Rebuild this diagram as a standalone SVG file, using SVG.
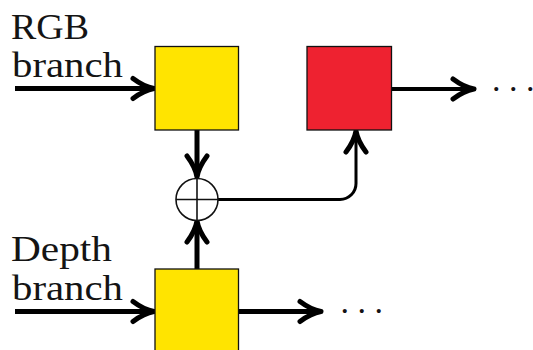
<svg xmlns="http://www.w3.org/2000/svg" width="533" height="350" viewBox="0 0 533 350">
  <style>
    .lbl { font-family: "Liberation Serif", "DejaVu Serif", serif; font-size: 36px; fill: #141414; }
    .dots { font-family: "Liberation Serif", "DejaVu Serif", serif; font-size: 34px; fill: #141414; }
    .box { stroke: #111; stroke-width: 1.3; }
    .yellow { fill: #FFE400; }
    .red { fill: #EE2230; }
    .thick { stroke: #000; stroke-width: 5; fill: none; }
    .mid { stroke: #000; stroke-width: 4; fill: none; }
    .thin { stroke: #000; stroke-width: 3; fill: none; }
    .sum { stroke: #111; stroke-width: 1.6; fill: #fff; }
  </style>
  <defs>
    <marker id="arr" markerUnits="userSpaceOnUse" viewBox="-28 -14 32 28" markerWidth="32" markerHeight="28" refX="-4" refY="0" orient="auto" overflow="visible">
      <path d="M-22,-10 C-14,-4 -7,-1 -1,0 C-7,1 -14,4 -22,10" fill="none" stroke="#000" stroke-width="5" stroke-linecap="round" stroke-linejoin="round"/>
    </marker>
  </defs>

  <g id="label-rgb">
    <text class="lbl" x="11" y="39" textLength="78" lengthAdjust="spacingAndGlyphs">RGB</text>
    <text class="lbl" x="12" y="77" textLength="111" lengthAdjust="spacingAndGlyphs">branch</text>
  </g>
  <g id="label-depth">
    <text class="lbl" x="11" y="261" textLength="101" lengthAdjust="spacingAndGlyphs">Depth</text>
    <text class="lbl" x="12" y="300" textLength="111" lengthAdjust="spacingAndGlyphs">branch</text>
  </g>

  <g id="connectors">
    <line class="thick" x1="15" y1="88.5" x2="151" y2="88.5" marker-end="url(#arr)"/>
    <line class="thick" x1="197" y1="130" x2="197" y2="174" marker-end="url(#arr)"/>
    <line class="thick" x1="197" y1="269" x2="197" y2="224" marker-end="url(#arr)"/>
    <path class="thin" d="M218,199.5 H340 A16,16 0 0 0 356,183.5 V134" marker-end="url(#arr)"/>
    <line class="mid" x1="391" y1="89" x2="471" y2="89" marker-end="url(#arr)"/>
    <line class="thick" x1="15" y1="311.5" x2="151" y2="311.5" marker-end="url(#arr)"/>
    <line class="thick" x1="238" y1="311.5" x2="318" y2="311.5" marker-end="url(#arr)"/>
  </g>

  <g id="rgb-block">
    <rect class="box yellow" x="155" y="46.5" width="83.5" height="83.5"/>
  </g>
  <g id="fusion-block">
    <rect class="box red" x="307" y="46.5" width="84.5" height="83.5"/>
  </g>
  <g id="depth-block">
    <rect class="box yellow" x="155" y="269" width="83.5" height="95"/>
  </g>
  <g id="sum">
    <circle class="sum" cx="197" cy="199.5" r="21"/>
    <line x1="176" y1="199.5" x2="218" y2="199.5" stroke="#111" stroke-width="1.6"/>
    <line x1="197" y1="178.5" x2="197" y2="220.5" stroke="#111" stroke-width="1.6"/>
  </g>
  <g id="dots-top">
    <text class="dots" x="492" y="91">. . .</text>
  </g>
  <g id="dots-bottom">
    <text class="dots" x="340.5" y="313">. . .</text>
  </g>
</svg>
